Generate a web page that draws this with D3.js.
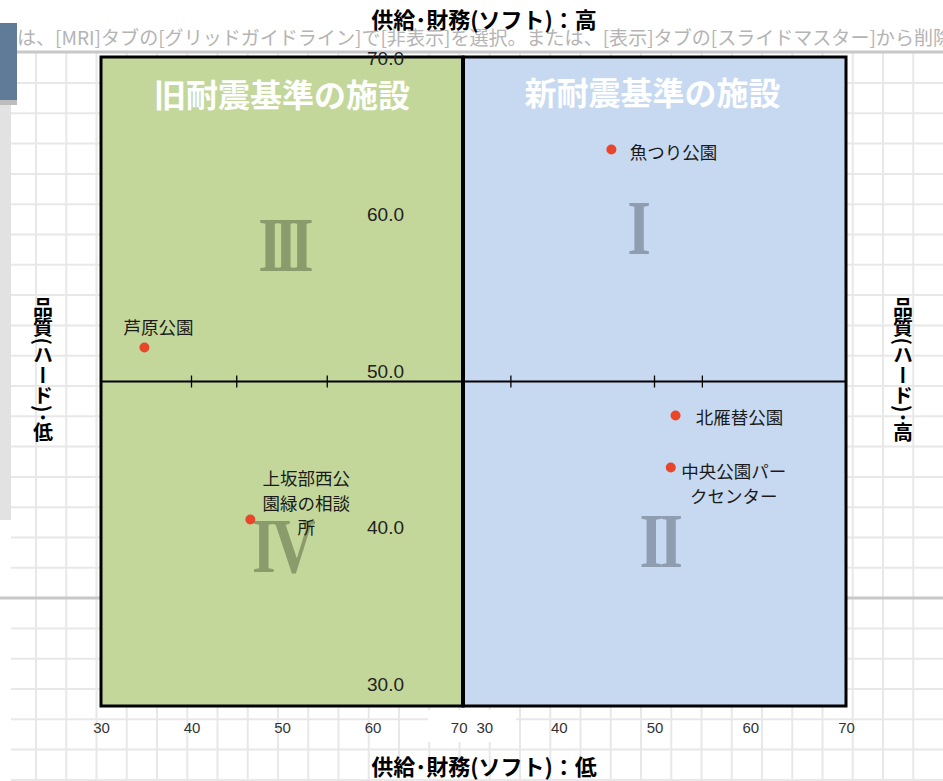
<!DOCTYPE html>
<html>
<head>
  <meta charset="utf-8">
  <script src="https://d3js.org/d3.v7.min.js"></script>
  <style>
    body { margin: 0; padding: 0; background: white; }
    svg { display: block; }
    .jp { font-family: 'Noto Sans CJK JP', sans-serif; }
  </style>
</head>
<body>
  <svg id="canvas" width="943" height="781"></svg>

  <script>
    // --- data ---
    const facilities = ["魚つり公園", "芦原公園", "北雁替公園", "中央公園パークセンター", "上坂部西公園緑の相談所"];
    const softScore  = [45.5, 34.8, 52.2, 51.7, 46.5];   // 供給・財務 (x)
    const hardScore  = [64.3, 52.1, 47.9, 44.7, 41.5];   // 品質 (y)
    const panel      = ["new", "old", "new", "new", "old"];
    const labelLines = [["魚つり公園"], ["芦原公園"], ["北雁替公園"], ["中央公園パー", "クセンター"], ["上坂部西公", "園緑の相談", "所"]];

    const xTicks = [30, 40, 50, 60, 70];
    const yTicks = [30, 40, 50, 60, 70];
    const axisMarksOld = [40, 45, 55];
    const axisMarksNew = [35, 50, 55];

    // label placement (centre of first line, relative to the point)
    const labelOffset = [[62, 2], [14, -21], [64, 0], [63, 3], [56, -42]];

    const W = 943, H = 781;
    const svg = d3.select("#canvas");

    // --- spreadsheet-like background ---
    const bg = svg.append("g");
    const colX = d3.range(36, W, 30.25);
    const rowY = d3.range(83, H, 30.3);
    bg.selectAll("line.v").data(colX).join("line")
      .attr("x1", d => d).attr("x2", d => d).attr("y1", 52).attr("y2", H)
      .attr("stroke", "#e8e8e8").attr("stroke-width", 2);
    bg.selectAll("line.h").data(rowY).join("line")
      .attr("x1", 11).attr("x2", W).attr("y1", d => d).attr("y2", d => d)
      .attr("stroke", "#e8e8e8").attr("stroke-width", 2);
    bg.append("line").attr("x1", 0).attr("x2", W).attr("y1", 598).attr("y2", 598)
      .attr("stroke", "#c8c8c8").attr("stroke-width", 3);
    bg.append("rect").attr("x", 0).attr("y", 100).attr("width", 11).attr("height", 420).attr("fill", "#e2e2e2");
    bg.append("rect").attr("x", 0).attr("y", 23).attr("width", 17).attr("height", 77).attr("fill", "#5f7b98");
    bg.append("rect").attr("x", 0).attr("y", 100).attr("width", 17).attr("height", 5).attr("fill", "#bdbdbd");
    bg.append("line").attr("x1", 17).attr("x2", W).attr("y1", 52).attr("y2", 52)
      .attr("stroke", "#c8c8c8").attr("stroke-width", 3);
    bg.append("text").attr("class", "jp")
      .attr("x", 17).attr("y", 45)
      .attr("font-size", 19).attr("fill", "#b4b4b4")
      .attr("textLength", 935).attr("lengthAdjust", "spacingAndGlyphs")
      .text("は、[MRI]タブの[グリッドガイドライン]で[非表示]を選択。または、[表示]タブの[スライドマスター]から削除");
    bg.append("rect").attr("x", 428).attr("y", 710).attr("width", 88).attr("height", 32).attr("fill", "white");

    // --- scales ---
    const xOld = d3.scaleLinear().domain([30, 70]).range([101, 463]);
    const xNew = d3.scaleLinear().domain([30, 70]).range([463, 846]);
    const y = d3.scaleLinear().domain([30, 70]).range([706, 57]);
    const yLabel = d3.scaleLinear().domain([30, 70]).range([684, 58]);

    // --- quadrant panels ---
    svg.append("rect").attr("x", xOld(30)).attr("y", y(70))
      .attr("width", xOld(70) - xOld(30)).attr("height", y(30) - y(70))
      .attr("fill", "#c4d79b").attr("stroke", "#000").attr("stroke-width", 3);
    svg.append("rect").attr("x", xNew(30)).attr("y", y(70))
      .attr("width", xNew(70) - xNew(30)).attr("height", y(30) - y(70))
      .attr("fill", "#c6d9f0").attr("stroke", "#000").attr("stroke-width", 3);

    // quadrant numerals
    const numerals = [
      { t: "III", x: xOld(50), y: y(58.4), c: "#8a9b6c", ls: -10 },
      { t: "IV",  x: xOld(50), y: y(39.9), c: "#8a9b6c", ls: -5 },
      { t: "I",   x: xNew(48.4), y: y(59.5), c: "#8f9db0", ls: 0 },
      { t: "II",  x: xNew(50.5), y: y(40.2), c: "#8f9db0", ls: -5 }
    ];
    svg.selectAll("text.num").data(numerals).join("text")
      .attr("transform", d => `translate(${d.x},${d.y}) scale(0.78,1)`)
      .attr("text-anchor", "middle").attr("dominant-baseline", "central")
      .attr("font-family", "'Liberation Serif', serif").attr("font-size", 78)
      .attr("font-weight", "bold")
      .attr("letter-spacing", d => d.ls)
      .attr("fill", d => d.c)
      .text(d => d.t);

    // quadrant titles
    svg.append("text").attr("class", "jp")
      .attr("x", (xOld(30) + xOld(70)) / 2).attr("y", 93)
      .attr("text-anchor", "middle").attr("dominant-baseline", "central")
      .attr("font-size", 32).attr("font-weight", "bold").attr("fill", "white")
      .text("旧耐震基準の施設");
    svg.append("text").attr("class", "jp")
      .attr("x", (xNew(30) + xNew(70)) / 2 - 2).attr("y", 91)
      .attr("text-anchor", "middle").attr("dominant-baseline", "central")
      .attr("font-size", 32).attr("font-weight", "bold").attr("fill", "white")
      .text("新耐震基準の施設");

    // horizontal axis (quality = 50) and marks
    svg.append("line").attr("x1", xOld(30)).attr("x2", xNew(70))
      .attr("y1", y(50)).attr("y2", y(50))
      .attr("stroke", "#000").attr("stroke-width", 2);
    svg.append("line").attr("x1", xOld(70)).attr("x2", xOld(70))
      .attr("y1", y(70)).attr("y2", y(30))
      .attr("stroke", "#000").attr("stroke-width", 4);
    const marks = axisMarksOld.map(xOld).concat(axisMarksNew.map(xNew));
    svg.selectAll("line.mark").data(marks).join("line")
      .attr("x1", d => d).attr("x2", d => d)
      .attr("y1", y(50) - 6).attr("y2", y(50) + 6)
      .attr("stroke", "#000").attr("stroke-width", 1.3);

    // y tick labels
    svg.selectAll("text.ytick").data(yTicks).join("text")
      .attr("x", 404).attr("y", d => yLabel(d))
      .attr("text-anchor", "end").attr("dominant-baseline", "central")
      .attr("font-family", "'Liberation Sans', Arial, sans-serif").attr("font-size", 19)
      .attr("fill", "#222")
      .text(d => d3.format(".1f")(d));

    // bottom x axes
    const axOld = svg.append("g").attr("transform", "translate(0,727)")
      .call(d3.axisBottom(xOld).tickValues(xTicks).tickSize(0).tickPadding(0));
    const axNew = svg.append("g").attr("transform", "translate(0,727)")
      .call(d3.axisBottom(xNew).tickValues(xTicks).tickSize(0).tickPadding(0));
    [axOld, axNew].forEach(ax => {
      ax.select(".domain").remove();
      ax.selectAll("text")
        .attr("dy", null).attr("y", 0).attr("dominant-baseline", "central")
        .attr("font-family", "'Liberation Sans', Arial, sans-serif").attr("font-size", 15)
        .attr("fill", "#333");
    });
    axOld.selectAll("text").filter(d => d === 70).attr("text-anchor", "end").attr("dx", 4);
    axNew.selectAll("text").filter(d => d === 30).attr("text-anchor", "start").attr("dx", 13);

    // points
    const px = i => panel[i] === "old" ? xOld(softScore[i]) : xNew(softScore[i]);
    const py = i => y(hardScore[i]);
    const idx = d3.range(facilities.length);

    svg.selectAll("circle.pt").data(idx).join("circle")
      .attr("cx", px).attr("cy", py).attr("r", 5)
      .attr("fill", "#e8452a");

    const lbl = svg.selectAll("text.lbl").data(idx).join("text")
      .attr("class", "jp")
      .attr("font-size", 17.5).attr("fill", "#1a1a1a")
      .attr("text-anchor", "middle").attr("dominant-baseline", "central");
    lbl.each(function (i) {
      const t = d3.select(this);
      labelLines[i].forEach((line, k) => {
        t.append("tspan")
          .attr("x", px(i) + labelOffset[i][0])
          .attr("y", py(i) + labelOffset[i][1] + k * 24.5)
          .text(line);
      });
    });

    // axis titles
    const titleFont = "'Noto Sans CJK JP', sans-serif";
    svg.append("text")
      .attr("x", 484).attr("y", 18)
      .attr("text-anchor", "middle").attr("dominant-baseline", "central")
      .attr("font-family", titleFont).attr("font-size", 22).attr("font-weight", "bold")
      .text("供給･財務(ソフト)：高");
    svg.append("text")
      .attr("x", 484).attr("y", 765)
      .attr("text-anchor", "middle").attr("dominant-baseline", "central")
      .attr("font-family", titleFont).attr("font-size", 22).attr("font-weight", "bold")
      .text("供給･財務(ソフト)：低");
    svg.append("text")
      .attr("x", 43).attr("y", 370)
      .style("writing-mode", "vertical-rl")
      .attr("text-anchor", "middle")
      .attr("font-family", titleFont).attr("font-size", 20).attr("font-weight", "bold")
      .text("品質(ハード)･低");
    svg.append("text")
      .attr("x", 903).attr("y", 370)
      .style("writing-mode", "vertical-rl")
      .attr("text-anchor", "middle")
      .attr("font-family", titleFont).attr("font-size", 20).attr("font-weight", "bold")
      .text("品質(ハード)･高");
  </script>
</body>
</html>
